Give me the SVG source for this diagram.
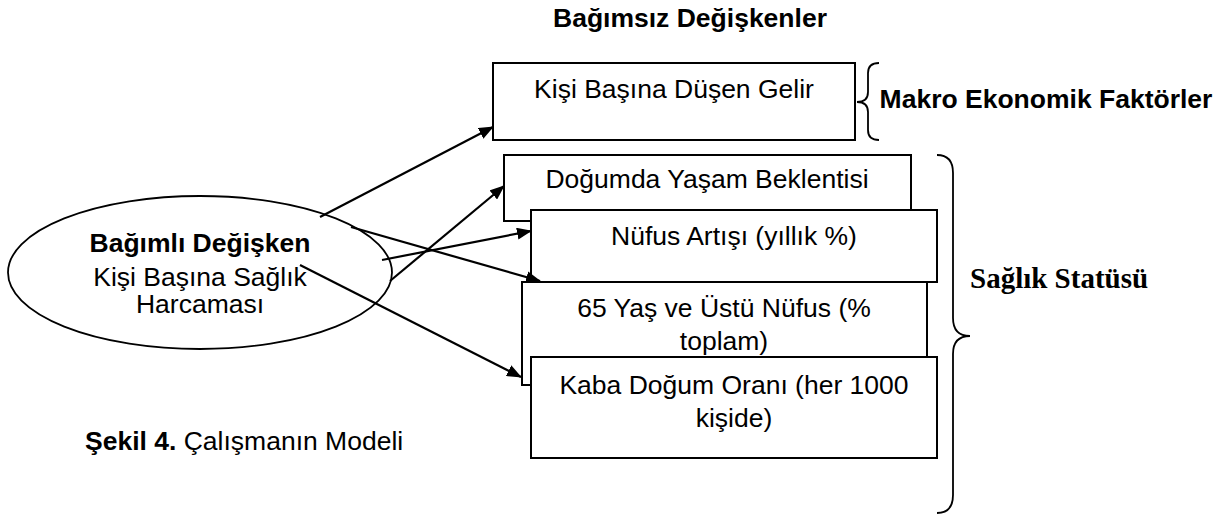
<svg xmlns="http://www.w3.org/2000/svg" width="1221" height="518" viewBox="0 0 1221 518">
  <style>
    .box { fill: #fff; stroke: #000; stroke-width: 2; }
    .oval { fill: #fff; stroke: #000; stroke-width: 1.8; }
    .t { font-family: "Liberation Sans", Arial, sans-serif; font-size: 26.5px; fill: #000; text-anchor: middle; }
    .b { font-weight: bold; }
    .serif { font-family: "Liberation Serif", "Times New Roman", serif; font-size: 29px; font-weight: bold; fill: #000; }
    .brace { fill: none; stroke: #000; stroke-width: 1.8; }
    .arrow { fill: none; stroke: #000; stroke-width: 2.2; marker-end: url(#head); }
  </style>
  <defs>
    <marker id="head" markerUnits="userSpaceOnUse" markerWidth="15" markerHeight="12" refX="14" refY="6" orient="auto">
      <path d="M0,0 L15,6 L0,12 z" fill="#000"/>
    </marker>
  </defs>
  <rect width="1221" height="518" fill="#fff"/>

  <text id="title" class="t b" x="690" y="27">Bağımsız Değişkenler</text>

  <g id="dependent">
    <ellipse class="oval" cx="200" cy="272.5" rx="192" ry="76.5"/>
    <text class="t b" x="200" y="252">Bağımlı Değişken</text>
    <text class="t" x="200" y="286">Kişi Başına Sağlık</text>
    <text class="t" x="200" y="313">Harcaması</text>
  </g>

  <g id="income">
    <rect class="box" x="493" y="63" width="362" height="77"/>
    <text class="t" x="674" y="98">Kişi Başına Düşen Gelir</text>
  </g>

  <g id="life-expectancy">
    <rect class="box" x="504" y="155" width="407" height="66"/>
    <text class="t" x="707" y="188">Doğumda Yaşam Beklentisi</text>
  </g>

  <g id="population-65">
    <rect class="box" x="522" y="282" width="405" height="103"/>
    <text class="t" x="724" y="317">65 Yaş ve Üstü Nüfus (%</text>
    <text class="t" x="724" y="350">toplam)</text>
  </g>

  <g id="population-growth">
    <rect class="box" x="531" y="210" width="406" height="72"/>
    <text class="t" x="734" y="245">Nüfus Artışı (yıllık %)</text>
  </g>

  <g id="birth-rate">
    <rect class="box" x="531" y="357" width="406" height="101"/>
    <text class="t" x="734" y="394">Kaba Doğum Oranı (her 1000</text>
    <text class="t" x="734" y="427">kişide)</text>
  </g>

  <g id="macro-group">
    <path class="brace" d="M879,63 Q868,63 868,73 L868,92 Q868,102 857,102 Q868,102 868,112 L868,130 Q868,140 879,140"/>
    <text class="t b" x="1046" y="108">Makro Ekonomik Faktörler</text>
  </g>

  <g id="health-group">
    <path class="brace" d="M937,155 Q953,155 953,173 L953,318 Q953,336 970,336 Q953,336 953,354 L953,495 Q953,513 937,513"/>
    <text class="serif" x="970" y="288">Sağlık Statüsü</text>
  </g>

  <g id="connectors">
    <line class="arrow" x1="320" y1="217" x2="493" y2="127"/>
    <line class="arrow" x1="351" y1="227" x2="540" y2="281"/>
    <line class="arrow" x1="382" y1="260" x2="531" y2="231"/>
    <line class="arrow" x1="390" y1="281" x2="504" y2="186"/>
    <line class="arrow" x1="300" y1="265" x2="521" y2="377"/>
  </g>

  <text id="caption" x="85" y="450" font-family="Liberation Sans, Arial, sans-serif" font-size="26.5" fill="#000"><tspan font-weight="bold">Şekil 4.</tspan> Çalışmanın Modeli</text>
</svg>
